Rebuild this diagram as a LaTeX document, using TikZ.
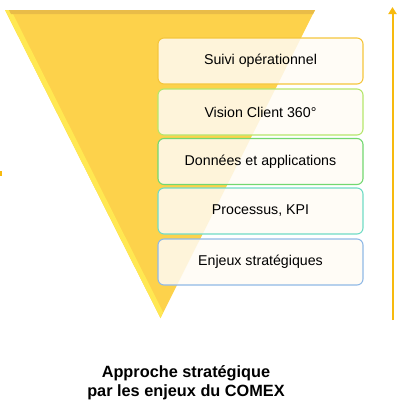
\documentclass[tikz,border=0pt]{standalone}
\usepackage{fontspec}
\setmainfont{Liberation Sans}
\usetikzlibrary{arrows.meta}
\definecolor{funnel}{HTML}{FDD24B}
\definecolor{funneltop}{HTML}{E9BC48}
\definecolor{funnellight}{HTML}{FFE852}
\definecolor{arrowc}{HTML}{F7BA0E}
\definecolor{bfill}{HTML}{FFFBF4}
\definecolor{cA}{HTML}{F5C63C}
\definecolor{cB}{HTML}{B5E66C}
\definecolor{cC}{HTML}{72D870}
\definecolor{cD}{HTML}{70DCC6}
\definecolor{cE}{HTML}{90B9E6}
\tikzset{
  levelbox/.style={draw=#1, line width=1.1pt, rounded corners=6pt, fill=bfill, fill opacity=0.85, text opacity=1,
    minimum width=205pt, minimum height=46pt, inner sep=0pt,
    font=\fontsize{14.2}{16}\selectfont},
  title/.style={font=\fontsize{16.3}{19}\selectfont\bfseries, align=center},
  upline/.style={draw=arrowc, line width=2pt, -{Triangle[length=7pt,width=8pt]}}
}
\begin{document}
\begin{tikzpicture}[x=1pt,y=-1pt]
\useasboundingbox (0,0) rectangle (400,408);
% funnel
\fill[funnel] (5,10) -- (315,10) -- (160.5,318) -- cycle;
\fill[funnellight] (5,10) -- (11,10) -- (163,312) -- (160.5,318) -- cycle;
\fill[funneltop] (9,10) -- (315,10) -- (313,14) -- (11,14) -- cycle;
% small cut mark at left
\fill[arrowc] (0,171) rectangle (1.5,176);
% boxes
\node[levelbox=cA] (b1) at (260.5,61) {Suivi opérationnel};
\node[levelbox=cB] (b2) at (260.5,112) {Vision Client 360°};
\node[levelbox=cC] (b3) at (260.5,161.5) {Données et applications};
\node[levelbox=cD] (b4) at (260.5,211) {Processus, KPI};
\node[levelbox=cE] (b5) at (260.5,262) {Enjeux stratégiques};
% arrow
\coordinate (abot) at (392.5,320);
\coordinate (atop) at (392.5,7);
\draw[upline] (abot) -- (atop);
% title
\node[title] (t) at (186,383) {Approche stratégique\\par les enjeux du COMEX};
\end{tikzpicture}
\end{document}
